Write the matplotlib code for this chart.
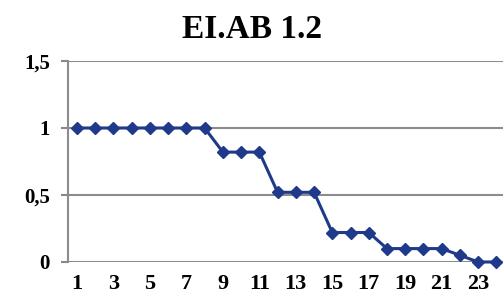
import matplotlib.pyplot as plt
import numpy as np

# data
categories = list(range(1, 25))
values = [1, 1, 1, 1, 1, 1, 1, 1,
          0.82, 0.82, 0.82,
          0.52, 0.52, 0.52,
          0.22, 0.22, 0.22,
          0.10, 0.10, 0.10, 0.10,
          0.05, 0.0, 0.0]
tick_labels = [str(c) for c in categories[::2]]
y_ticks = [0, 0.5, 1, 1.5]
y_labels = ["0", "0,5", "1", "1,5"]

plt.rcParams["font.family"] = ["Liberation Serif", "DejaVu Serif"]

fig = plt.figure(figsize=(5.03, 3.02), dpi=100)
ax = fig.add_axes([0.135, 0.1325, 0.87, 0.6655])

x = np.arange(len(categories))
ax.plot(x, values, color="#1f3a8a", linewidth=2.2, marker="D",
        markersize=6.5, markeredgecolor="#1f3a8a", clip_on=False, zorder=3)

ax.set_xlim(-0.5, len(categories) - 0.5)
ax.set_ylim(0, 1.5)
ax.set_yticks(y_ticks)
ax.set_yticklabels(y_labels, fontsize=15, fontweight="bold")
ax.set_xticks(x[::2])
ax.set_xticklabels(tick_labels, fontsize=16, fontweight="semibold")
ax.tick_params(axis="x", length=0, pad=9)
ax.tick_params(axis="y", length=5, color="#888888", width=1.5, pad=8)

ax.grid(axis="y", color="#8c8c8c", linewidth=1.5)
ax.set_axisbelow(True)
for side in ["top", "right", "bottom"]:
    ax.spines[side].set_visible(False)
ax.spines["left"].set_color("#8c8c8c")
ax.spines["left"].set_linewidth(1.5)

fig.text(0.5, 0.902, "EI.AB 1.2", ha="center", va="center",
         fontsize=24, fontweight="bold")

fig.savefig("out.png", dpi=100)
